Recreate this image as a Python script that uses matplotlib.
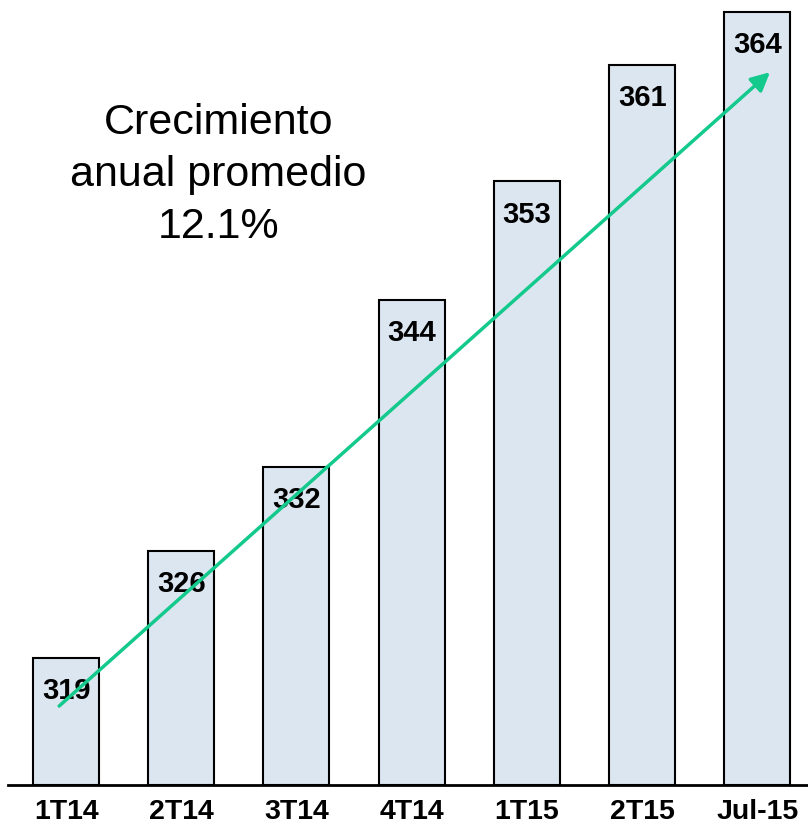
import matplotlib
matplotlib.use("Agg")
import matplotlib.pyplot as plt
import numpy as np

# Data
categories = ['1T14', '2T14', '3T14', '4T14', '1T15', '2T15', 'Jul-15']
labels = ['319', '326', '332', '344', '353', '361', '364']
# bar heights as drawn in the picture (not exactly the rounded labels)
heights = [319.0, 326.45, 332.3, 343.95, 352.2, 360.3, 364.0]
note = 'Crecimiento\nanual promedio\n12.1%'

plt.rcParams['font.family'] = ['Liberation Sans', 'DejaVu Sans']

fig = plt.figure(figsize=(8.08, 8.32), dpi=100)
ax = fig.add_axes([8 / 808, 47 / 832, 800 / 808, 785 / 832])

x = np.arange(len(categories))
base = 310.15
ax.bar(x, np.array(heights) - base, bottom=base, width=0.573,
       color='#dce6f1', edgecolor='black', linewidth=1.5, zorder=2)

for xi, h, lab in zip(x, heights, labels):
    ax.text(xi, h - 1.35, lab, ha='center', va='top',
            fontsize=21, fontweight='bold', zorder=3)

# trend arrow
ax.annotate('', xy=(6.11, 359.8), xytext=(-0.06, 315.65),
            arrowprops=dict(arrowstyle='-|>', color='#14c98c', lw=2.5,
                            mutation_scale=28, shrinkA=0, shrinkB=0),
            zorder=4)

ax.text(1.32, 352.64, note, ha='center', va='center', fontsize=31,
        linespacing=1.38)

ax.set_xlim(-0.504, 6.44)
ax.set_ylim(base, base + 785 / 14.356)
ax.set_xticks(x)
ax.set_xticklabels(categories, fontsize=20.5, fontweight='bold')
ax.tick_params(axis='x', length=0, pad=10)
ax.set_yticks([])
for s in ['left', 'right', 'top']:
    ax.spines[s].set_visible(False)
ax.spines['bottom'].set_linewidth(2)

fig.savefig('out.png', dpi=100)
